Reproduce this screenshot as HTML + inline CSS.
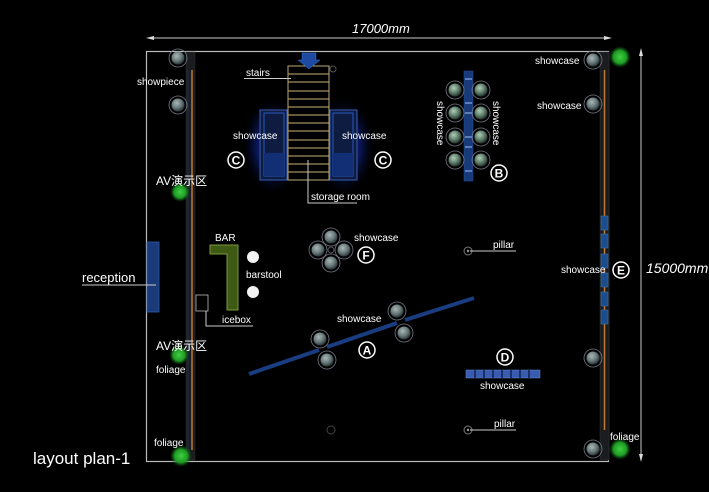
<!DOCTYPE html>
<html><head><meta charset="utf-8"><style>
html,body{margin:0;padding:0;background:#000;}
svg{display:block;}
text{font-family:"Liberation Sans","Noto Sans CJK SC",sans-serif;fill:#fff;}
</style></head><body>
<svg width="709" height="492" viewBox="0 0 709 492" xmlns="http://www.w3.org/2000/svg">
<defs>
<radialGradient id="sph" cx="40%" cy="35%" r="65%"><stop offset="0" stop-color="#aab6b4"/><stop offset="0.6" stop-color="#66787a"/><stop offset="1" stop-color="#2c3638"/></radialGradient>
<radialGradient id="sphg" cx="40%" cy="35%" r="65%"><stop offset="0" stop-color="#b0ccb6"/><stop offset="0.6" stop-color="#5a7a68"/><stop offset="1" stop-color="#25332c"/></radialGradient>
<radialGradient id="glow" cx="50%" cy="50%" r="50%"><stop offset="0" stop-color="#1a3cc0" stop-opacity="0.95"/><stop offset="0.55" stop-color="#0c2080" stop-opacity="0.6"/><stop offset="1" stop-color="#000" stop-opacity="0"/></radialGradient>
<radialGradient id="leaf" cx="50%" cy="50%" r="50%"><stop offset="0" stop-color="#3fcf3f"/><stop offset="0.6" stop-color="#1f9a25"/><stop offset="1" stop-color="#0b4a10" stop-opacity="0"/></radialGradient>
<g id="s"><circle r="9" fill="none" stroke="#778" stroke-width="0.8"/><circle r="6.5" fill="url(#sph)"/></g>
<g id="sg"><circle r="9" fill="none" stroke="#778" stroke-width="0.8"/><circle r="6.5" fill="url(#sphg)"/></g>
</defs>
<rect width="709" height="492" fill="#000"/>

<!-- dims -->
<line x1="150" y1="38" x2="608" y2="38" stroke="#ccc" stroke-width="1"/>
<polygon points="146,38 154,36 154,40" fill="#ddd"/><polygon points="612,38 604,36 604,40" fill="#ddd"/>
<text x="352" y="33" font-size="13" font-style="italic">17000mm</text>
<line x1="641" y1="52" x2="641" y2="458" stroke="#ccc" stroke-width="1"/>
<polygon points="641,48 639,56 643,56" fill="#ddd"/><polygon points="641,462 639,454 643,454" fill="#ddd"/>
<text x="646" y="273" font-size="14" font-style="italic">15000mm</text>

<!-- room -->
<rect x="146.5" y="51.5" width="462" height="410" fill="none" stroke="#bbb" stroke-width="1.2"/>

<!-- left wall -->
<rect x="186" y="52" width="9" height="408" fill="#1a1c20" stroke="#333" stroke-width="0.5"/>
<line x1="192" y1="70" x2="192" y2="450" stroke="#c07a30" stroke-width="1.5"/>
<line x1="188" y1="70" x2="188" y2="450" stroke="#203050" stroke-width="1"/>
<!-- right wall -->
<rect x="600" y="52" width="9" height="408" fill="#1a1c20" stroke="#333" stroke-width="0.5"/>
<line x1="604.5" y1="70" x2="604.5" y2="430" stroke="#c07a30" stroke-width="1.5"/>
<g fill="#1b4c8c" stroke="#3a7ac0" stroke-width="0.5">
<rect x="601" y="216" width="7" height="14"/><rect x="601" y="234" width="7" height="14"/><rect x="601" y="254" width="7" height="14"/><rect x="601" y="273" width="7" height="14"/><rect x="601" y="292" width="7" height="14"/><rect x="601" y="310" width="7" height="14"/>
</g>

<!-- foliage -->
<circle cx="180" cy="192" r="10" fill="url(#leaf)"/>
<circle cx="179" cy="355" r="10" fill="url(#leaf)"/>
<circle cx="181" cy="456" r="11" fill="url(#leaf)"/>
<circle cx="620" cy="57" r="11" fill="url(#leaf)"/>
<circle cx="620" cy="449" r="11" fill="url(#leaf)"/>

<!-- left spheres -->
<g transform="translate(178,58)"><use href="#s"/></g>
<g transform="translate(178,105)"><use href="#s"/></g>
<text x="137" y="85" font-size="10">showpiece</text>
<text x="156" y="185" font-size="12">AV演示区</text>
<text x="156" y="350" font-size="12">AV演示区</text>
<text x="156" y="373" font-size="10">foliage</text>
<text x="154" y="446" font-size="10">foliage</text>

<!-- reception -->
<rect x="147" y="242" width="12" height="70" fill="#1b3a7a" stroke="#2d5aa8" stroke-width="0.8"/>
<line x1="82" y1="285" x2="156" y2="285" stroke="#ccc" stroke-width="1"/>
<text x="82" y="282" font-size="13">reception</text>

<!-- BAR -->
<polygon points="210,245 238,245 238,310 227,310 227,254 210,254" fill="#3f5a14" stroke="#7a9a3a" stroke-width="1"/>
<text x="215" y="241" font-size="10">BAR</text>
<circle cx="253" cy="257" r="6" fill="#f2f2f2"/><circle cx="253" cy="292" r="6" fill="#f2f2f2"/>
<text x="246" y="278" font-size="10">barstool</text>
<rect x="196" y="295" width="12" height="16" fill="none" stroke="#bbb" stroke-width="0.8"/>
<polyline points="206,311 206,326 253,326" fill="none" stroke="#ccc" stroke-width="1"/>
<text x="222" y="323" font-size="10">icebox</text>

<!-- glow & showcases C -->
<ellipse cx="273" cy="146" rx="32" ry="50" fill="url(#glow)"/>
<ellipse cx="344" cy="146" rx="32" ry="50" fill="url(#glow)"/>
<rect x="260" y="110" width="27" height="70" fill="#0d1c40" stroke="#3a5cb0" stroke-width="1"/>
<rect x="264" y="113" width="20" height="63" fill="none" stroke="#2a58c0" stroke-width="1"/>
<rect x="264" y="153" width="20" height="23" fill="#122e74"/>
<rect x="330" y="110" width="27" height="70" fill="#0d1c40" stroke="#3a5cb0" stroke-width="1"/>
<rect x="333" y="113" width="20" height="63" fill="none" stroke="#2a58c0" stroke-width="1"/>
<rect x="333" y="153" width="20" height="23" fill="#122e74"/>
<text x="233" y="139" font-size="10">showcase</text>
<text x="342" y="139" font-size="10">showcase</text>

<!-- stairs -->
<rect x="288" y="66" width="41" height="114" fill="#000" stroke="#bba878" stroke-width="1"/>
<g stroke="#c9b27a" stroke-width="1">
<line x1="288" y1="74" x2="329" y2="74"/><line x1="288" y1="82" x2="329" y2="82"/><line x1="288" y1="91" x2="329" y2="91"/><line x1="288" y1="99" x2="329" y2="99"/><line x1="288" y1="107" x2="329" y2="107"/><line x1="288" y1="115" x2="329" y2="115"/><line x1="288" y1="123" x2="329" y2="123"/><line x1="288" y1="131" x2="329" y2="131"/><line x1="288" y1="140" x2="329" y2="140"/><line x1="288" y1="148" x2="329" y2="148"/><line x1="288" y1="156" x2="329" y2="156"/><line x1="288" y1="164" x2="329" y2="164"/><line x1="288" y1="172" x2="329" y2="172"/>
</g>
<polygon points="302,53 316,53 316,60 320,60 309,69 298,60 302,60" fill="#1e4aa0" stroke="#3a6ad0" stroke-width="0.5"/>
<circle cx="333" cy="69" r="3" fill="none" stroke="#555"/>
<line x1="244" y1="78.5" x2="291" y2="78.5" stroke="#ccc"/>
<text x="246" y="76" font-size="10">stairs</text>
<polyline points="308,160 308,203 357,203" fill="none" stroke="#ccc"/>
<text x="311" y="200" font-size="10">storage room</text>

<!-- letters -->
<circle cx="236" cy="160" r="8" fill="none" stroke="#fff" stroke-width="1.5"/><text x="236" y="164.5" font-size="12" text-anchor="middle" font-weight="bold">C</text>
<circle cx="383" cy="160" r="8" fill="none" stroke="#fff" stroke-width="1.5"/><text x="383" y="164.5" font-size="12" text-anchor="middle" font-weight="bold">C</text>
<circle cx="499" cy="173" r="8" fill="none" stroke="#fff" stroke-width="1.5"/><text x="499" y="177.5" font-size="12" text-anchor="middle" font-weight="bold">B</text>
<circle cx="366" cy="255" r="8" fill="none" stroke="#fff" stroke-width="1.5"/><text x="366" y="259.5" font-size="12" text-anchor="middle" font-weight="bold">F</text>
<circle cx="367" cy="350" r="8" fill="none" stroke="#fff" stroke-width="1.5"/><text x="367" y="354.5" font-size="12" text-anchor="middle" font-weight="bold">A</text>
<circle cx="505" cy="357" r="8" fill="none" stroke="#fff" stroke-width="1.5"/><text x="505" y="361.5" font-size="12" text-anchor="middle" font-weight="bold">D</text>
<circle cx="621" cy="270" r="8" fill="none" stroke="#fff" stroke-width="1.5"/><text x="621" y="274.5" font-size="12" text-anchor="middle" font-weight="bold">E</text>

<!-- B -->
<rect x="464" y="71" width="9" height="110" fill="#183a78" stroke="#2a56a0" stroke-width="0.5"/>
<g stroke="#9cc0ff" stroke-width="1"><line x1="465" y1="79" x2="472" y2="79"/><line x1="465" y1="103" x2="472" y2="103"/><line x1="465" y1="113" x2="472" y2="113"/><line x1="465" y1="137" x2="472" y2="137"/><line x1="465" y1="147" x2="472" y2="147"/><line x1="465" y1="171" x2="472" y2="171"/></g>
<g transform="translate(455,90)"><use href="#sg"/></g><g transform="translate(481,90)"><use href="#sg"/></g>
<g transform="translate(455,113)"><use href="#sg"/></g><g transform="translate(481,113)"><use href="#sg"/></g>
<g transform="translate(455,137)"><use href="#sg"/></g><g transform="translate(481,137)"><use href="#sg"/></g>
<g transform="translate(455,160)"><use href="#sg"/></g><g transform="translate(481,160)"><use href="#sg"/></g>
<text font-size="10" transform="translate(437,101) rotate(90)">showcase</text>
<text font-size="10" transform="translate(493,101) rotate(90)">showcase</text>

<!-- F -->
<circle cx="331" cy="250" r="3" fill="none" stroke="#555"/>
<g transform="translate(331,237)"><use href="#s"/></g>
<g transform="translate(318,250)"><use href="#s"/></g>
<g transform="translate(344,250)"><use href="#s"/></g>
<g transform="translate(331,263)"><use href="#s"/></g>
<text x="354" y="241" font-size="10">showcase</text>

<!-- pillars -->
<circle cx="468" cy="251" r="4" fill="none" stroke="#777"/><circle cx="468" cy="251" r="1.2" fill="#999"/>
<line x1="470" y1="251" x2="516" y2="251" stroke="#ccc"/><text x="493" y="248" font-size="10">pillar</text>
<circle cx="468" cy="430" r="4" fill="none" stroke="#777"/><circle cx="468" cy="430" r="1.2" fill="#999"/>
<line x1="470" y1="430" x2="516" y2="430" stroke="#ccc"/><text x="494" y="427" font-size="10">pillar</text>
<circle cx="331" cy="430" r="4" fill="none" stroke="#444"/>

<!-- A -->
<g stroke="#1a3c80" stroke-width="4" stroke-linecap="butt">
<line x1="249" y1="374" x2="319" y2="350"/><line x1="327" y1="347" x2="397" y2="323"/><line x1="405" y1="320" x2="474" y2="298"/>
</g>
<g transform="translate(320,339)"><use href="#s"/></g>
<g transform="translate(327,360)"><use href="#s"/></g>
<g transform="translate(397,311)"><use href="#s"/></g>
<g transform="translate(404,333)"><use href="#s"/></g>
<text x="337" y="322" font-size="10">showcase</text>

<!-- D -->
<rect x="466" y="370" width="74" height="8" fill="#3a5cb0" stroke="#6a8ad8" stroke-width="0.5"/>
<g stroke="#0f2050" stroke-width="1.5"><line x1="475" y1="370" x2="475" y2="378"/><line x1="484" y1="370" x2="484" y2="378"/><line x1="493" y1="370" x2="493" y2="378"/><line x1="502" y1="370" x2="502" y2="378"/><line x1="511" y1="370" x2="511" y2="378"/><line x1="520" y1="370" x2="520" y2="378"/><line x1="529" y1="370" x2="529" y2="378"/></g>
<text x="480" y="389" font-size="10">showcase</text>

<!-- right spheres -->
<g transform="translate(593,60)"><use href="#s"/></g>
<g transform="translate(593,104)"><use href="#s"/></g>
<g transform="translate(593,358)"><use href="#s"/></g>
<g transform="translate(593,449)"><use href="#s"/></g>
<text x="535" y="64" font-size="10">showcase</text>
<text x="537" y="109" font-size="10">showcase</text>
<text x="561" y="273" font-size="10">showcase</text>
<text x="610" y="440" font-size="10">foliage</text>

<text x="33" y="464" font-size="17">layout plan-1</text>
</svg>
</body></html>
